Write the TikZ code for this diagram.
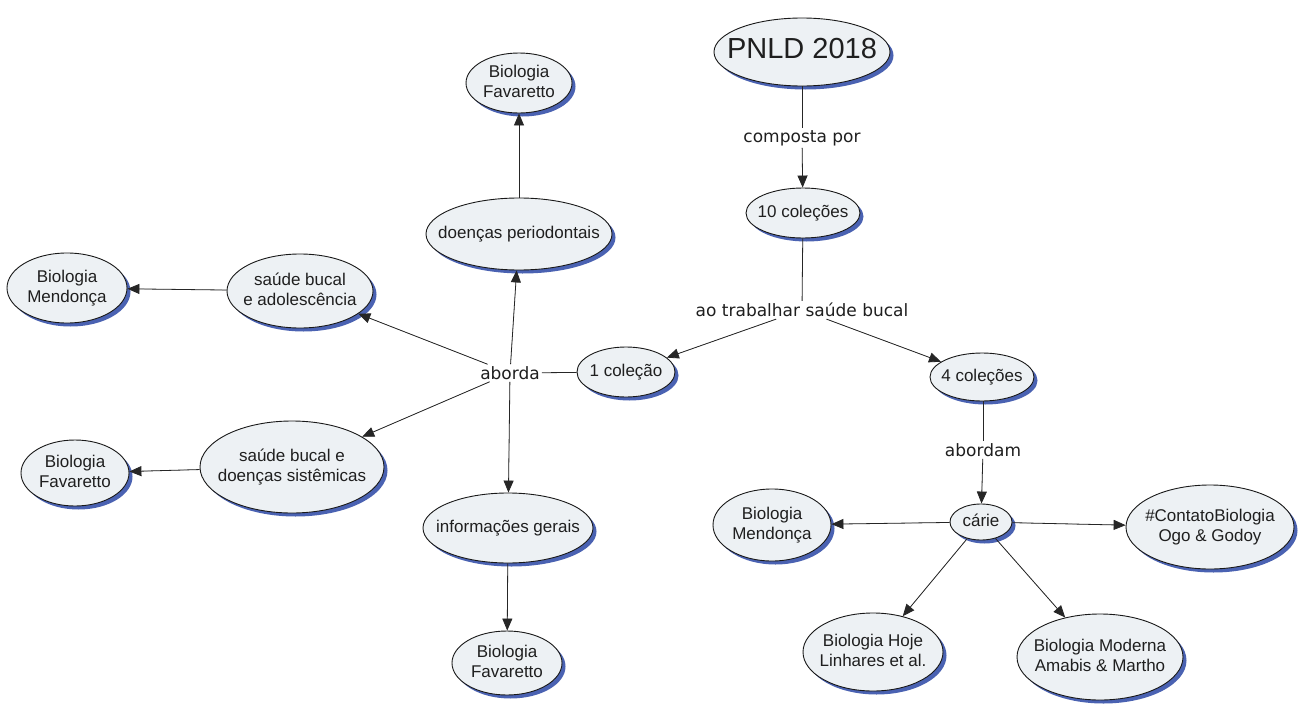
\documentclass[tikz,border=0pt]{standalone}
\usepackage{fontspec}
\setmainfont{Liberation Sans}
\newfontfamily\lab{DejaVu Sans}
\usetikzlibrary{shapes.geometric,arrows.meta,shadows}
\definecolor{nodefill}{HTML}{EDF1F4}
\definecolor{shadowblue}{HTML}{4A62B2}
\newcommand\ctxt[1]{\makebox[0pt][c]{\begin{tabular}{@{}c@{}}#1\end{tabular}}}
\begin{document}
\begin{tikzpicture}[x=1pt,y=-1pt,
 concept/.style={ellipse, draw=black!90, line width=0.9pt, fill=nodefill, inner sep=0pt,
   font=\fontsize{17}{20}\selectfont, text=black!88,
   drop shadow={shadow xshift=3.5pt, shadow yshift=-3.5pt, fill=shadowblue, opacity=1}},
 lnk/.style={font=\lab\fontsize{17}{19}\selectfont, inner sep=2pt, text=black!88},
 arr/.style={-{Triangle[length=12pt,width=10pt]}, line width=0.8pt, draw=black!85, fill=black},
 ln/.style={line width=0.8pt, draw=black!85}]
\path[use as bounding box, fill=white] (0,0) rectangle (1302,704);

% nodes
\node[concept, minimum width=176pt, minimum height=68pt, font=\fontsize{29}{31}\selectfont] (pnld) at (802,52) {\ctxt{PNLD 2018}};
\node[lnk] (comp) at (802,138) {composta por};
\node[concept, minimum width=114pt, minimum height=50pt] (dez) at (803,213) {\ctxt{10 coleções}};
\node[lnk] (trab) at (802,310) {ao trabalhar saúde bucal};
\node[concept, minimum width=98pt, minimum height=50pt] (um) at (626,372) {\ctxt{1 coleção}};
\node[concept, minimum width=104pt, minimum height=48pt] (quatro) at (982,377) {\ctxt{4 coleções}};
\node[lnk] (abordam) at (983,450) {abordam};
\node[concept, minimum width=62pt, minimum height=36pt] (carie) at (981,522) {\ctxt{cárie}};
\node[concept, minimum width=118pt, minimum height=72pt] (mendR) at (772,525) {\ctxt{Biologia\\Mendonça}};
\node[concept, minimum width=168pt, minimum height=84pt] (contato) at (1210,527) {\ctxt{\#ContatoBiologia\\Ogo \& Godoy}};
\node[concept, minimum width=140pt, minimum height=78pt] (hoje) at (873,652) {\ctxt{Biologia Hoje\\Linhares et al.}};
\node[concept, minimum width=166pt, minimum height=86pt] (moderna) at (1100,657) {\ctxt{Biologia Moderna\\Amabis \& Martho}};

\node[lnk] (aborda) at (510,373) {aborda};
\node[concept, minimum width=186pt, minimum height=72pt] (perio) at (519,234) {\ctxt{doenças periodontais}};
\node[concept, minimum width=106pt, minimum height=60pt] (favT) at (519,83) {\ctxt{Biologia\\Favaretto}};
\node[concept, minimum width=146pt, minimum height=74pt] (adol) at (300,291) {\ctxt{saúde bucal\\e adolescência}};
\node[concept, minimum width=120pt, minimum height=70pt] (mendL) at (67,288) {\ctxt{Biologia\\Mendonça}};
\node[concept, minimum width=184pt, minimum height=92pt] (sist) at (292,467) {\ctxt{saúde bucal e\\doenças sistêmicas}};
\node[concept, minimum width=108pt, minimum height=66pt] (favL) at (75,473) {\ctxt{Biologia\\Favaretto}};
\node[concept, minimum width=170pt, minimum height=70pt] (info) at (508,528) {\ctxt{informações gerais}};
\node[concept, minimum width=110pt, minimum height=64pt] (favB) at (507,663) {\ctxt{Biologia\\Favaretto}};

% connectors
\draw[ln] (pnld) -- (comp);
\draw[arr] (comp) -- (dez);
\draw[ln] (dez) -- (trab);
\draw[arr] (trab) -- (um);
\draw[arr] (trab) -- (quatro);
\draw[ln] (quatro.south -| abordam) -- (abordam);
\draw[arr] (abordam) -- (carie);
\draw[arr] (carie) -- (mendR);
\draw[arr] (carie) -- (contato);
\draw[arr] (carie) -- (hoje);
\draw[arr] (carie) -- (moderna);

\draw[ln] (um) -- (aborda);
\draw[arr] (aborda) -- (perio);
\draw[arr] (aborda) -- (adol);
\draw[arr] (aborda) -- (sist);
\draw[arr] (aborda) -- (info);
\draw[arr] (perio.north -| favT) -- (favT);
\draw[arr] (adol) -- (mendL);
\draw[arr] (sist) -- (favL);
\draw[arr] (info) -- (favB);
\end{tikzpicture}
\end{document}
